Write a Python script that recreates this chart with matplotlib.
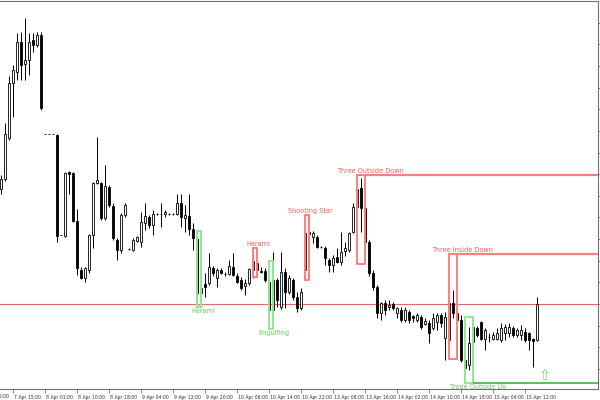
import matplotlib
matplotlib.use("Agg")
import matplotlib.pyplot as plt
from matplotlib.patches import Rectangle
import matplotlib.transforms as mtransforms

# ---------------- data (price units, bar index = position in list) ----------------
opens = [211, 221, 262, 317, 328, 358, 336, 340, 360, 355,
         365, 266, 266, 266, 265, 165, 164, 228, 227, 179,
         130, 122, 130, 165, 217, 217, 182, 213, 194, 160,
         150, 185, 151, 150, 159, 158, 177, 183, 175, 186,
         186, 186, 186, 186, 186, 197, 182, 184, 171, 161,
         107, 116, 117, 132, 122, 130, 126, 126, 133, 124,
         120, 114, 117, 130, 137, 129, 129, 118, 90, 120,
         93, 128, 108, 120, 103, 92, 130, 168, 163, 163,
         153, 152, 140, 135, 143, 138, 149, 150, 168, 193,
         212, 192, 158, 127, 113, 87, 97, 93, 96, 87,
         90, 80, 88, 84, 80, 83, 76, 77, 72, 78,
         85, 62, 60, 97, 87, 80, 40, 35, 58, 72,
         78, 61, 63, 61, 61, 60, 67, 67, 72, 65,
         65, 68, 67, 61, 60]
highs = [225, 277, 324, 335, 367, 368, 382, 367, 367, 368,
         368, 266, 266, 266, 266, 165, 228, 229, 228, 191,
         133, 133, 166, 218, 263, 218, 235, 215, 197, 162,
         187, 197, 152, 162, 164, 188, 197, 185, 190, 187,
         197, 190, 187, 187, 206, 206, 195, 206, 177, 168,
         120, 127, 147, 134, 132, 132, 128, 140, 147, 127,
         123, 121, 132, 148, 139, 133, 132, 120, 148, 122,
         148, 132, 125, 122, 108, 112, 170, 185, 169, 165,
         154, 154, 142, 145, 152, 168, 158, 168, 197, 212,
         222, 195, 160, 130, 115, 98, 100, 100, 98, 93,
         93, 93, 90, 85, 87, 85, 82, 80, 87, 87,
         87, 88, 107, 110, 90, 85, 44, 73, 75, 74,
         79, 72, 67, 68, 72, 77, 76, 77, 74, 72,
         75, 72, 68, 62, 103]
lows = [206, 219, 260, 283, 320, 320, 320, 325, 348, 353,
        290, 266, 266, 266, 158, 165, 163, 206, 178, 125,
        121, 118, 127, 152, 216, 180, 180, 193, 160, 140,
        147, 183, 150, 149, 158, 153, 170, 172, 165, 185,
        173, 183, 185, 185, 185, 173, 168, 165, 150, 97,
        103, 103, 115, 124, 113, 126, 124, 125, 124, 117,
        110, 105, 115, 122, 123, 127, 118, 88, 85, 93,
        91, 92, 106, 100, 88, 90, 122, 163, 157, 152,
        152, 135, 128, 128, 137, 135, 144, 148, 167, 192,
        168, 157, 124, 110, 82, 80, 85, 90, 90, 82,
        78, 78, 77, 78, 78, 71, 75, 57, 70, 70,
        73, 40, 55, 82, 78, 38, 27, 30, 55, 63,
        60, 50, 58, 60, 60, 58, 60, 63, 63, 63,
        60, 58, 50, 33, 59]
closes = [221, 266, 317, 330, 358, 335, 340, 358, 355, 365,
          292, 266, 266, 266, 164, 165, 227, 226, 179, 132,
          122, 132, 165, 217, 220, 182, 214, 195, 162, 150,
          185, 195, 151, 160, 163, 178, 184, 175, 186, 186,
          186, 188, 186, 186, 197, 183, 185, 171, 162, 107,
          112, 113, 133, 127, 130, 127, 126, 134, 125, 118,
          112, 117, 131, 139, 130, 128, 120, 90, 120, 100,
          128, 108, 122, 103, 92, 108, 167, 166, 167, 153,
          153, 142, 135, 142, 138, 148, 152, 167, 193, 211,
          192, 158, 127, 113, 87, 97, 90, 95, 92, 92,
          80, 90, 80, 82, 85, 73, 79, 67, 82, 85,
          77, 83, 97, 87, 80, 40, 32, 57, 73, 65,
          61, 70, 63, 65, 67, 72, 73, 73, 65, 70,
          70, 60, 60, 59, 96]

tick_bars = [-5, 3, 11, 19, 27, 35, 43, 51, 59, 67, 75, 83, 91, 99, 107, 115, 123, 131]
tick_labels = ["7 Apr 06:00", "7 Apr 15:00", "8 Apr 01:00", "8 Apr 10:00", "8 Apr 18:00",
               "9 Apr 04:00", "9 Apr 12:00", "9 Apr 20:00", "10 Apr 06:00", "10 Apr 14:00",
               "10 Apr 22:00", "13 Apr 08:00", "13 Apr 16:00", "14 Apr 02:00", "14 Apr 10:00",
               "14 Apr 18:00", "15 Apr 04:00", "15 Apr 12:00"]

level_price = 96

# patterns: name, first bar, last bar, low price, high price, bullish?
pattern_names = ["Harami", "Harami", "Engulfing", "Shooting Star",
                 "Three Outside Down", "Three Inside Down", "Three Outside Up"]
pattern_start = [49, 63, 67, 76, 89, 112, 116]
pattern_end = [50, 64, 68, 77, 91, 114, 118]
pattern_low = [93, 123, 71, 120, 136, 41, 17]
pattern_high = [169, 152, 139, 185, 225, 146, 83]
pattern_bull = [True, False, True, False, False, False, True]
pattern_label_bar = [50.5, 64.25, 68.25, 77.25, 92.25, 115.25, 119.25]
pattern_extend = [False, False, False, False, True, True, True]

signal_bar = 136
signal_price = 24

XMIN, XMAX = -0.25, 149.25

# ---------------- figure ----------------
fig = plt.figure(figsize=(6, 4), dpi=100)
ax = fig.add_axes([0.0, 11 / 400, 598 / 600, 388 / 400])

RED_SOFT = "#ff7f7f"
RED_TXT = "#f25a5a"
GREEN_SOFT = "#90e890"
GREEN_TXT = "#5ccf5c"
GREEN_LINE = "#3cb43c"

# level line
ax.axhline(level_price, color="#e86868", lw=0.8, zorder=1)

# candles
n = len(opens)
xs = list(range(n))
ax.vlines(xs, lows, highs, color="black", lw=0.7, zorder=2)
bw = 0.62
for i in xs:
    o, c = opens[i], closes[i]
    bull = c >= o
    ax.add_patch(Rectangle((i - bw / 2, min(o, c)), bw, abs(c - o),
                           facecolor="white" if bull else "black",
                           edgecolor="black", lw=0.6, zorder=3))

# patterns
for k, name in enumerate(pattern_names):
    col = GREEN_SOFT if pattern_bull[k] else RED_SOFT
    s, e = pattern_start[k], pattern_end[k]
    lo, hi = pattern_low[k], pattern_high[k]
    ax.add_patch(Rectangle((s, lo), e - s, hi - lo, fill=False,
                           edgecolor=col, lw=1.4, zorder=4))
    if pattern_bull[k]:
        ax.text(pattern_label_bar[k], lo - 4, name, color=GREEN_TXT, fontsize=4.7,
                ha="center", va="center", zorder=6)
    else:
        ax.text(pattern_label_bar[k], hi + 4, name, color=RED_TXT, fontsize=4.7,
                ha="center", va="center", zorder=6)
    if pattern_extend[k]:
        y = lo if pattern_bull[k] else hi
        ax.plot([e, XMAX], [y, y], color=GREEN_LINE if pattern_bull[k] else RED_SOFT,
                lw=1.2 if pattern_bull[k] else 1.6, zorder=4, solid_capstyle="butt")

# signal arrow
ax.text(signal_bar, signal_price, "\u21e7", color="#66dd66", fontsize=10.5,
        ha="center", va="center", family="DejaVu Sans", zorder=6)

# axes styling
ax.spines["left"].set_visible(False)
for side in ["top", "right", "bottom"]:
    ax.spines[side].set_color("#707070")
    ax.spines[side].set_linewidth(0.8)

ax.yaxis.tick_right()
ax.set_yticks([31 + 21.65 * k for k in range(17)])
ax.tick_params(axis="y", direction="out", length=2, width=0.6, colors="#707070",
               labelright=False, labelleft=False)

ax.set_xticks(tick_bars[1:])
ax.set_xticklabels(tick_labels[1:])
ax.tick_params(axis="x", direction="out", length=3, width=0.6, colors="#707070",
               labelsize=3.3, labelcolor="#303030", pad=1)
offset = mtransforms.ScaledTranslation(1.5 / 100, 0, fig.dpi_scale_trans)
for lbl in ax.get_xticklabels():
    lbl.set_horizontalalignment("left")
    lbl.set_transform(lbl.get_transform() + offset)

# partially visible first time label (cut by the left edge)
first = ax.text(tick_bars[0], -0.012, tick_labels[0], fontsize=3.3, color="#303030",
                ha="left", va="top", clip_on=False,
                transform=ax.get_xaxis_transform() + offset)

ax.set_xlim(XMIN, XMAX)
ax.set_ylim(11, 399)

fig.savefig("out.png", dpi=100)
